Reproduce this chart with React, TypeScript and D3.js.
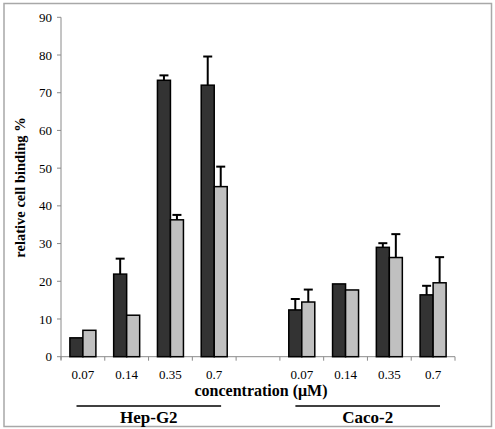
import React from "react";
import * as d3 from "d3";

const categories = ["H0.07", "H0.14", "H0.35", "H0.7", "gap", "C0.07", "C0.14", "C0.35", "C0.7"];
const tickLabels = ["0.07", "0.14", "0.35", "0.7", "", "0.07", "0.14", "0.35", "0.7"];
const darkValues = [5, 21.9, 73.3, 72.0, null, 12.4, 19.3, 29.0, 16.4];
const darkErrors = [null, 26.0, 74.6, 79.6, null, 15.3, null, 30.1, 18.8];
const lightValues = [7, 11, 36.3, 45.1, null, 14.5, 17.7, 26.3, 19.6];
const lightErrors = [null, null, 37.6, 50.4, null, 17.8, null, 32.5, 26.4];
const yTicks = [0, 10, 20, 30, 40, 50, 60, 70, 80, 90];
const groups = [
  { label: "Hep-G2", from: 0, to: 3 },
  { label: "Caco-2", from: 5, to: 8 },
];

export default function App() {
  const W = 495, H = 429;
  const x = d3.scaleBand<string>().domain(categories).range([61, 455]).paddingInner(0).paddingOuter(0);
  const y = d3.scaleLinear().domain([0, 90]).range([356.7, 17.3]);
  const bw = 13;
  const serif = "'Liberation Serif', 'Times New Roman', serif";
  const axisColor = "#8a8a8a";

  const bars: any[] = [];
  categories.forEach((c, i) => {
    const cx = (x(c) as number) + x.bandwidth() / 2;
    const series = [
      { v: darkValues[i], e: darkErrors[i], fill: "#333333", x0: cx - bw },
      { v: lightValues[i], e: lightErrors[i], fill: "#c0c0c0", x0: cx },
    ];
    series.forEach((s, j) => {
      if (s.v == null) return;
      bars.push(
        <rect key={`b${i}-${j}`} x={s.x0} y={y(s.v)} width={bw} height={y(0) - y(s.v)}
          fill={s.fill} stroke="#000" strokeWidth={1.5} />
      );
      if (s.e != null) {
        const ex = s.x0 + bw / 2;
        bars.push(
          <g key={`e${i}-${j}`} stroke="#000" strokeWidth={2}>
            <line x1={ex} x2={ex} y1={y(s.v)} y2={y(s.e)} />
            <line x1={ex - 4.5} x2={ex + 4.5} y1={y(s.e)} y2={y(s.e)} />
          </g>
        );
      }
    });
  });

  const boundaries = d3.range(categories.length + 1).map((k) => 61 + k * x.bandwidth());

  return (
    <svg width={W} height={H} style={{ position: "absolute", left: 0, top: 0 }}>
      <rect x={0} y={0} width={W} height={H} fill="#fff" />
      <rect x={4} y={3.5} width={487.5} height={423} fill="none" stroke="#a8a8a8" strokeWidth={1.5} />
      {/* y axis */}
      <line x1={61} x2={61} y1={y(90)} y2={y(0) + 3} stroke={axisColor} strokeWidth={1} />
      {yTicks.map((t) => (
        <g key={`yt${t}`}>
          <line x1={57} x2={61} y1={y(t)} y2={y(t)} stroke={axisColor} strokeWidth={1} />
          <text x={52} y={y(t)} dy="0.35em" textAnchor="end" fontFamily={serif} fontSize={13} fill="#000">{t}</text>
        </g>
      ))}
      {/* x axis */}
      <line x1={61} x2={455} y1={y(0)} y2={y(0)} stroke={axisColor} strokeWidth={1} />
      {boundaries.map((b, k) => (
        <line key={`xt${k}`} x1={b} x2={b} y1={y(0)} y2={y(0) + 4} stroke={axisColor} strokeWidth={1} />
      ))}
      {bars}
      {categories.map((c, i) => (
        <text key={`xl${i}`} x={(x(c) as number) + x.bandwidth() / 2} y={378.5} textAnchor="middle"
          fontFamily={serif} fontSize={13} fill="#000">{tickLabels[i]}</text>
      ))}
      <text x={261} y={396} textAnchor="middle" fontFamily={serif} fontSize={16} fontWeight="bold" fill="#000">
        concentration (μM)
      </text>
      {groups.map((g) => {
        const gx0 = (x(categories[g.from]) as number) + 15.5;
        const gx1 = (x(categories[g.to]) as number) + x.bandwidth() - 15;
        return (
          <g key={g.label}>
            <line x1={gx0} x2={gx1} y1={406} y2={406} stroke="#000" strokeWidth={1.5} />
            <text x={(gx0 + gx1) / 2} y={423} textAnchor="middle" fontFamily={serif} fontSize={17}
              fontWeight="bold" fill="#000">{g.label}</text>
          </g>
        );
      })}
      <text transform={`translate(25,187.5) rotate(-90)`} textAnchor="middle" fontFamily={serif}
        fontSize={14.5} fontWeight="bold" fill="#000">relative cell binding %</text>
    </svg>
  );
}
